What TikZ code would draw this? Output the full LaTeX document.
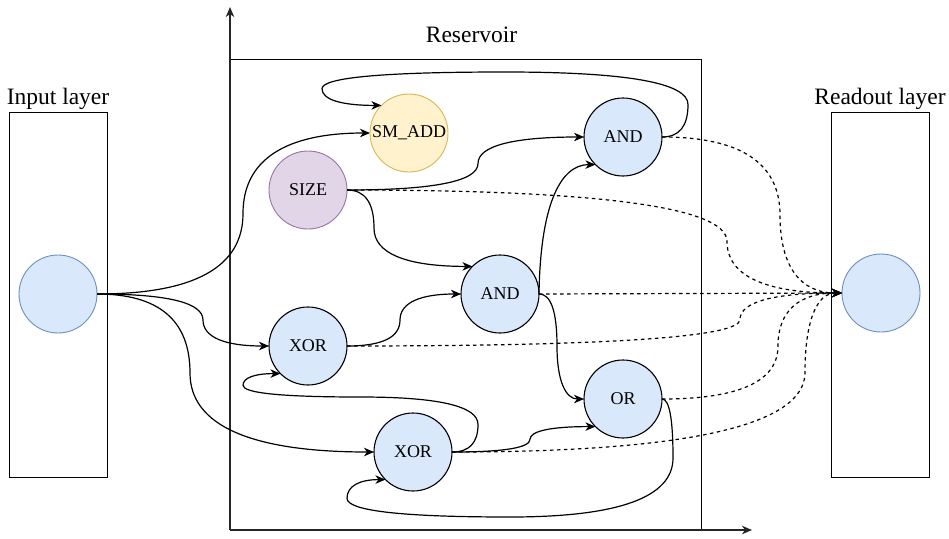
\documentclass[tikz,border=0pt]{standalone}
\usepackage{fontspec}
\setmainfont{Liberation Serif}
\usetikzlibrary{calc,arrows.meta}

% quadratic piece (start, corner, end) written as a cubic curve
\newcommand{\qc}[3]{.. controls ($(#1)!0.6667!(#2)$) and ($(#3)!0.6667!(#2)$) .. (#3)}

\begin{document}
\begin{tikzpicture}[x=1pt,y=-1pt,
  title/.style={font=\fontsize{23.5}{28}\selectfont, anchor=base},
  gate/.style={circle, minimum size=78pt, inner sep=0pt, outer sep=0pt,
    line width=1.1pt, draw=black, fill=gateblue,
    font=\fontsize{18}{21}\selectfont},
  io/.style={circle, minimum size=78pt, inner sep=0pt, outer sep=0pt,
    line width=0.9pt, draw=ioblue, fill=gateblue},
  layerbox/.style={draw=black, line width=1pt},
  arr/.style={line width=1.2pt, -{Stealth[length=10pt,width=8.5pt,inset=3pt]}},
  readarr/.style={arr, dash pattern=on 3.5pt off 3.5pt},
  axis/.style={line width=1.2pt, draw=black!85, -{Stealth[length=10pt,width=8.5pt,inset=3pt]}}
]
\definecolor{gateblue}{HTML}{DAE8FC}
\definecolor{ioblue}{HTML}{6C8EBF}
\definecolor{addfill}{HTML}{FFF2CC}
\definecolor{adddraw}{HTML}{D6B656}
\definecolor{sizefill}{HTML}{E1D5E7}
\definecolor{sizedraw}{HTML}{9673A6}

\useasboundingbox (0,0) rectangle (949,538);

% layers and reservoir frame
\draw[layerbox] (9,112) rectangle (107,477);
\draw[layerbox] (831,112) rectangle (929,477);
\draw[layerbox] (230,59) rectangle (701,530);
\node[title] (tin) at (58,104) {Input layer};
\node[title] (tout) at (880,104) {Readout layer};
\node[title] (tres) at (471.5,42) {Reservoir};

% axes
\coordinate (origin) at (230,530);
\coordinate (ytip) at (230,7);
\coordinate (xtip) at (752,530);
\draw[axis] (origin) -- (ytip);
\draw[axis] (origin) -- (xtip);

% nodes
\node[io] (in) at (58,294) {};
\node[io] (out) at (881,293) {};
\node[gate, draw=adddraw, fill=addfill, line width=0.9pt] (smadd) at (409,133) {SM\_ADD};
\node[gate, draw=sizedraw, fill=sizefill, line width=0.9pt] (size) at (308,190) {SIZE};
\node[gate] (and1) at (623,137) {AND};
\node[gate] (and2) at (500,294) {AND};
\node[gate] (xor1) at (308,346) {XOR};
\node[gate] (xor2) at (413,452) {XOR};
\node[gate] (orgate) at (623,399) {OR};

% input connections
\draw[arr] (in.east) \qc{in.east}{243,294}{243,213.5} \qc{243,213.5}{243,133}{smadd.west};
\draw[arr] (in.east) \qc{in.east}{203,294}{203,320} \qc{203,320}{203,346}{xor1.west};
\draw[arr] (in.east) \qc{in.east}{190,294}{190,373} \qc{190,373}{190,452}{xor2.west};

% reservoir connections
\draw[arr] (size.east) \qc{size.east}{478,190}{478,163.5} \qc{478,163.5}{478,137}{and1.west};
\draw[arr] (size.east) \qc{size.east}{374,190}{374,228.2} \qc{374,228.2}{374,266.4}{and2.north west};
\draw[arr] (xor1.east) \qc{xor1.east}{400,346}{400,320} \qc{400,320}{400,294}{and2.west};
\draw[arr] (and2.east) \qc{and2.east}{541,164.6}{and1.south west};
\draw[arr] (and2.east) \qc{and2.east}{557,294}{557,346.5} \qc{557,346.5}{557,399}{orgate.west};
\draw[arr] (xor2.east) \qc{xor2.east}{530,452}{530,439.3} \qc{530,439.3}{530,426.6}{orgate.south west};

% feedback loops
\draw[arr] (and1.east) \qc{and1.east}{688,137}{688,104.5} \qc{688,104.5}{688,72}{505,72}
  \qc{505,72}{322,72}{322,88.7} \qc{322,88.7}{322,105.4}{smadd.north west};
\draw[arr] (xor2.east) \qc{xor2.east}{478,452}{478,424.5} \qc{478,424.5}{478,397}{360.5,397}
  \qc{360.5,397}{243,397}{243,385.3} \qc{243,385.3}{243,373.6}{xor1.south west};
\draw[arr] (orgate.east) \qc{orgate.east}{673,399}{673,458} \qc{673,458}{673,517}{510,517}
  \qc{510,517}{347,517}{347,498.3} \qc{347,498.3}{347,479.6}{xor2.south west};

% readout connections
\draw[readarr] (and1.east) \qc{and1.east}{780,137}{780,215} \qc{780,215}{780,293}{out.west};
\draw[readarr] (size.east) \qc{size.east}{727,190}{727,241.5} \qc{727,241.5}{727,293}{out.west};
\draw[readarr] (and2.east) -- (out.west);
\draw[readarr] (xor1.east) \qc{xor1.east}{740,346}{740,319.5} \qc{740,319.5}{740,293}{out.west};
\draw[readarr] (orgate.east) \qc{orgate.east}{778,399}{778,346} \qc{778,346}{778,293}{out.west};
\draw[readarr] (xor2.east) \qc{xor2.east}{805,452}{805,372.5} \qc{805,372.5}{805,293}{out.west};
\end{tikzpicture}
\end{document}
